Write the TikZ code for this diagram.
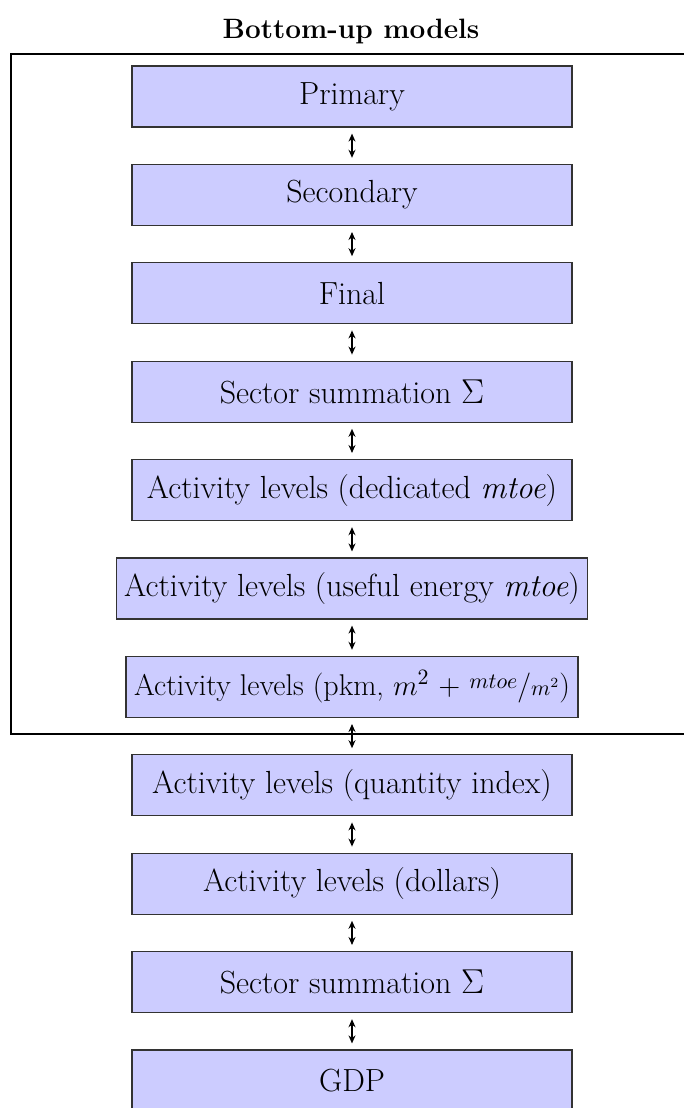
\documentclass[tikz,border=0pt]{standalone}
\usetikzlibrary{arrows.meta}
\begin{document}
\begin{tikzpicture}[x=0.5pt,y=-0.5pt,
  box/.style={draw=black!80, fill=blue!20, line width=0.6pt, minimum width=220pt, minimum height=30.5pt, inner sep=4pt, font=\fontsize{16}{19}\selectfont},
  link/.style={{Stealth[length=4pt,width=3.5pt]}-{Stealth[length=4pt,width=3.5pt]}, line width=0.8pt, shorten <=3pt, shorten >=3pt},
  frame/.style={draw=black, line width=1pt}]
\useasboundingbox (0,0) rectangle (684,1108);
\node[font=\fontsize{14}{17}\selectfont\bfseries] (title) at (351,32) {Bottom-up models};
\draw[frame] (11,54) rectangle (695,734);
\node[box] (n0) at (352,96.5) {Primary};
\node[box] (n1) at (352,194.9) {Secondary};
\node[box] (n2) at (352,293.3) {Final};
\node[box] (n3) at (352,391.7) {Sector summation $\Sigma$};
\node[box] (n4) at (352,490.1) {Activity levels (dedicated \textit{mtoe})};
\node[box] (n5) at (352,588.5) {Activity levels (useful energy \textit{mtoe})};
\node[box, font=\fontsize{15}{18}\selectfont] (n6) at (352,686.9) {Activity levels (pkm, $m^2$ + \raisebox{0.5ex}{$\scriptstyle mtoe$}/$\scriptstyle m^{2}$)};
\node[box] (n7) at (352,785.3) {Activity levels (quantity index)};
\node[box] (n8) at (352,883.7) {Activity levels (dollars)};
\node[box] (n9) at (352,982.1) {Sector summation $\Sigma$};
\node[box] (n10) at (352,1080.5) {GDP};
\foreach \a/\b in {n0/n1,n1/n2,n2/n3,n3/n4,n4/n5,n5/n6,n6/n7,n7/n8,n8/n9,n9/n10}
  \draw[link] (\a.south) -- (\b.north);
\end{tikzpicture}
\end{document}
